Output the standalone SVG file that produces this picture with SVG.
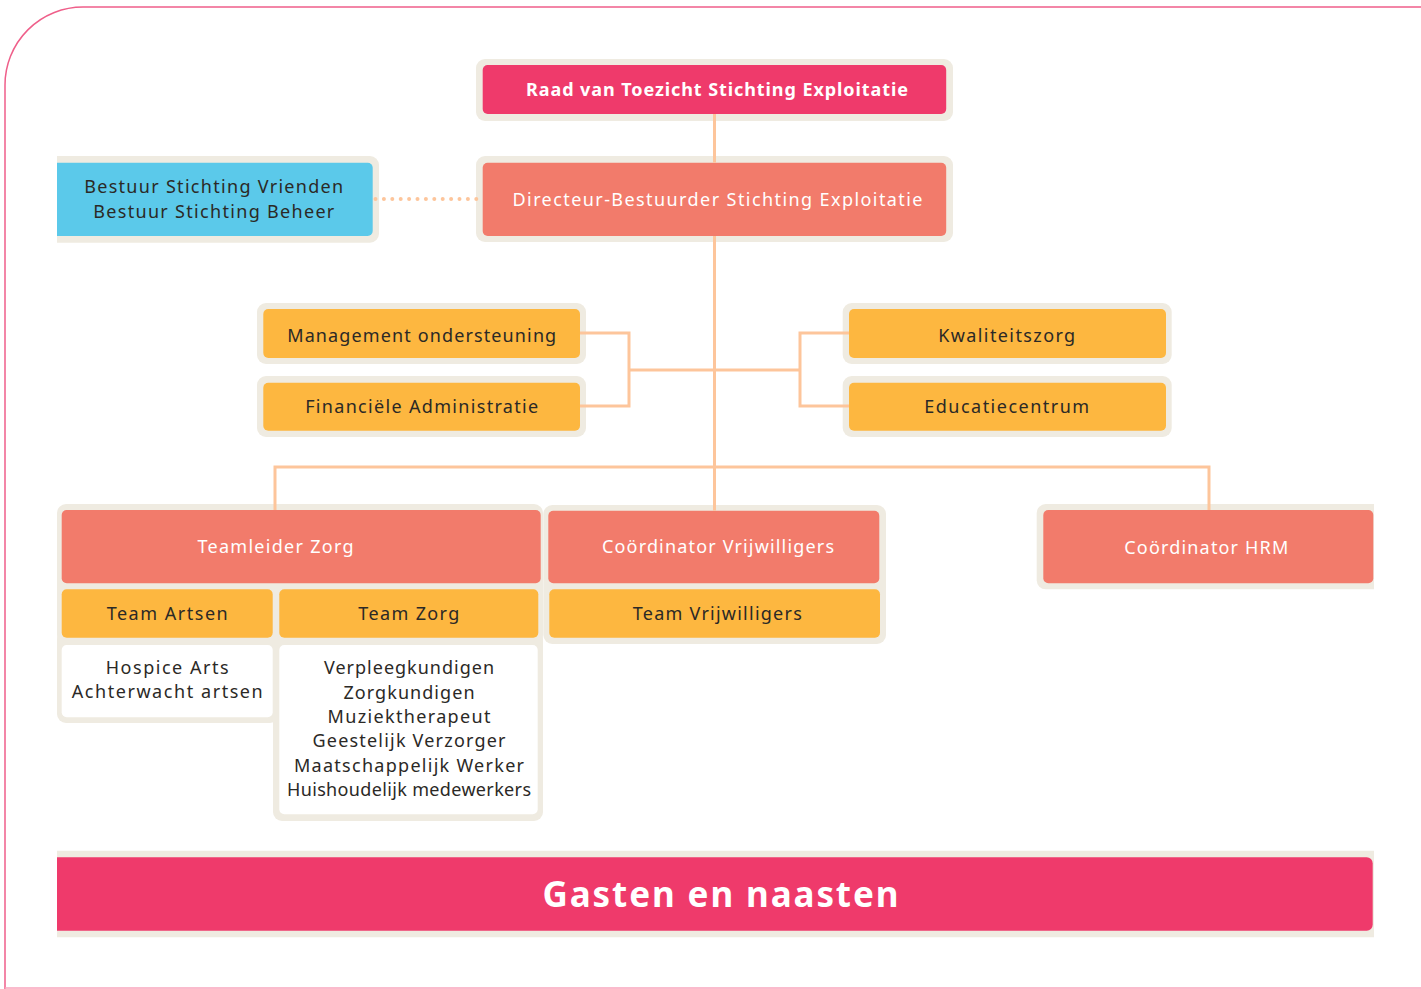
<svg xmlns="http://www.w3.org/2000/svg" width="1421" height="989" viewBox="0 0 1421 989">
<style>
text{font-family:"Noto Sans","Liberation Sans",sans-serif;font-size:18px;text-anchor:middle}
.d{fill:#2b2926}
.w{fill:#ffffff}
.b{font-weight:bold}
.halo{fill:#efebe1}
.pink{fill:#ef3a6b}
.coral{fill:#f27b6b}
.yel{fill:#fdb740}
.blue{fill:#5bc9ea}
.wht{fill:#ffffff}
.con{fill:none;stroke:#fdc59b;stroke-width:3}
.dot{fill:none;stroke:#fdc59b;stroke-width:4;stroke-linecap:round;stroke-dasharray:0 8.4}
</style>
<defs>
<clipPath id="clip"><rect x="57" y="0" width="1317" height="989"/></clipPath>
</defs>
<rect width="1421" height="989" fill="#ffffff"/>
<g id="frame">
<path d="M5,989 V85 A78,78 0 0 1 83,7 H1421" fill="none" stroke="#ef5f8a" stroke-width="1.5"/>
<path d="M5,988 H1421" fill="none" stroke="#f8a5bd" stroke-width="1.5"/>
</g>
<g clip-path="url(#clip)">
<g id="raad">
<rect class="halo" x="476" y="59" width="477" height="62" rx="9"/>
<rect class="pink" x="482.7" y="65" width="463.5" height="49" rx="5"/>
<text class="w b" x="717" y="96" textLength="382">Raad van Toezicht Stichting Exploitatie</text>
</g>
<g id="directeur">
<rect class="halo" x="476" y="156" width="477" height="86" rx="9"/>
<rect class="coral" x="482.7" y="162.7" width="463.5" height="73.3" rx="5"/>
<text class="w" x="717.5" y="206" textLength="410">Directeur-Bestuurder Stichting Exploitatie</text>
</g>
<g id="bestuur">
<rect class="halo" x="45" y="156" width="334" height="86.7" rx="9"/>
<rect class="blue" x="50" y="162.7" width="322.7" height="73.3" rx="5"/>
<text class="d" x="213.7" y="193.3" textLength="259">Bestuur Stichting Vrienden</text>
<text class="d" x="213.8" y="218.3" textLength="241">Bestuur Stichting Beheer</text>
</g>
<g id="management">
<rect class="halo" x="257" y="303" width="329" height="61" rx="9"/>
<rect class="yel" x="263.3" y="309" width="316.7" height="49" rx="5"/>
<text class="d" x="421.7" y="341.7" textLength="269">Management ondersteuning</text>
</g>
<g id="financiele">
<rect class="halo" x="257" y="376" width="329" height="61" rx="9"/>
<rect class="yel" x="263.3" y="382.7" width="316.7" height="48" rx="5"/>
<text class="d" x="421.7" y="413.3" textLength="233">Financiële Administratie</text>
</g>
<g id="kwaliteit">
<rect class="halo" x="842.7" y="303" width="329" height="61" rx="9"/>
<rect class="yel" x="849" y="309" width="317" height="49" rx="5"/>
<text class="d" x="1006.7" y="341.7" textLength="137">Kwaliteitszorg</text>
</g>
<g id="educatie">
<rect class="halo" x="842.7" y="376" width="329" height="61" rx="9"/>
<rect class="yel" x="849" y="382.7" width="317" height="48" rx="5"/>
<text class="d" x="1006.7" y="413.3" textLength="165">Educatiecentrum</text>
</g>
<g id="teamleider">
<rect class="halo" x="57" y="504" width="486" height="140" rx="9"/>
<rect class="halo" x="57" y="630" width="222" height="93" rx="9"/>
<rect class="halo" x="273" y="630" width="270" height="191" rx="9"/>
<rect class="coral" x="61.7" y="510" width="479" height="73.3" rx="5"/>
<text class="w" x="275.5" y="553.3" textLength="156">Teamleider Zorg</text>
<rect class="yel" x="61.7" y="589.3" width="211" height="48.4" rx="5"/>
<text class="d" x="167.2" y="620" textLength="121">Team Artsen</text>
<rect class="yel" x="279.3" y="589.3" width="259" height="48.4" rx="5"/>
<text class="d" x="408.8" y="620" textLength="101">Team Zorg</text>
<rect class="wht" x="61.7" y="645" width="211" height="72.3" rx="5"/>
<text class="d" x="167.2" y="674.3" textLength="123">Hospice Arts</text>
<text class="d" x="167.2" y="698.3" textLength="191">Achterwacht artsen</text>
<rect class="wht" x="279.3" y="645" width="258.4" height="169.3" rx="5"/>
<text class="d" x="409" y="674.3" textLength="170">Verpleegkundigen</text>
<text class="d" x="409" y="698.5" textLength="131">Zorgkundigen</text>
<text class="d" x="409" y="722.7" textLength="163">Muziektherapeut</text>
<text class="d" x="409" y="747.3" textLength="193">Geestelijk Verzorger</text>
<text class="d" x="409" y="771.7" textLength="230">Maatschappelijk Werker</text>
<text class="d" x="409" y="795.7" textLength="244">Huishoudelijk medewerkers</text>
</g>
<g id="vrijwilligers">
<rect class="halo" x="543.3" y="505" width="342.7" height="139" rx="9"/>
<rect class="coral" x="548.3" y="510.7" width="331" height="72.6" rx="5"/>
<text class="w" x="718" y="553.3" textLength="232">Coördinator Vrijwilligers</text>
<rect class="yel" x="549.3" y="589.3" width="330.7" height="48.4" rx="5"/>
<text class="d" x="717.3" y="620" textLength="169">Team Vrijwilligers</text>
</g>
<g id="hrm">
<rect class="halo" x="1036.7" y="504" width="350" height="85.3" rx="9"/>
<rect class="coral" x="1043.3" y="510" width="330" height="73.3" rx="5"/>
<text class="w" x="1206.3" y="554.3" textLength="164">Coördinator HRM</text>
</g>
<g id="gasten">
<rect class="halo" x="45" y="850.7" width="1340" height="86.6" rx="9"/>
<rect class="pink" x="50" y="857.3" width="1322.7" height="73.4" rx="6"/>
<text class="w b" x="720.5" y="906.7" style="font-size:35px" textLength="356">Gasten en naasten</text>
</g>
<g id="connectors">
<path class="con" d="M714.5,114 V162.7"/>
<path class="con" d="M714.5,236 V510.7"/>
<path class="con" d="M580,333 H629 V406 H580 M629,370 H714.5"/>
<path class="con" d="M849,333 H800 V406 H849 M714.5,370 H800"/>
<path class="con" d="M275,510 V467 H1209 V510"/>
<path class="dot" d="M375.5,199 H482"/>
</g>
</g>
</svg>
